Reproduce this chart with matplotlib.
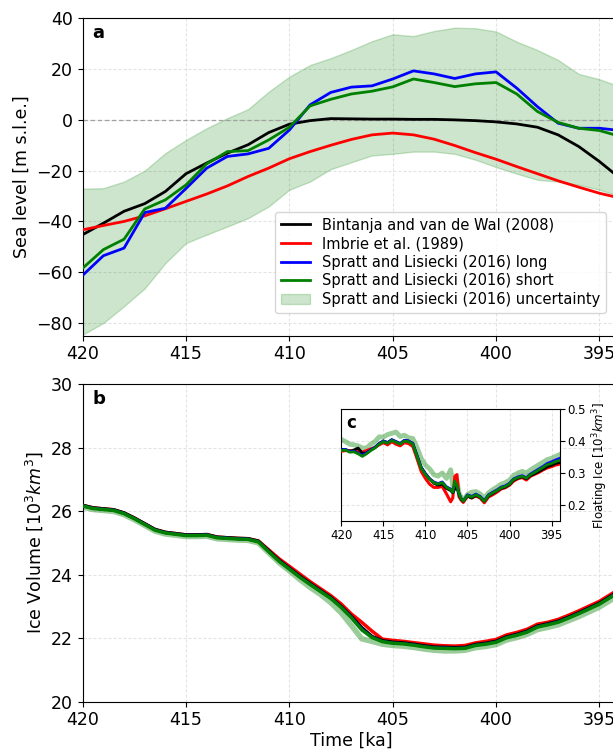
import numpy as np
import matplotlib
matplotlib.use("Agg")
import matplotlib.pyplot as plt

# ---------------- Panel a data (sea level, m s.l.e.) ----------------
time_a = np.arange(420, 393.5, -1.0)
bintanja = [-45.2, -40.7, -36.0, -33.0, -28.2, -21.2, -17.0, -13.1, -9.8, -5.0, -1.7, -0.3,
            0.5, 0.4, 0.3, 0.3, 0.2, 0.2, 0.0, -0.3, -0.8, -1.6, -2.9, -5.9, -10.5, -16.4, -23.0]
imbrie = [-43.3, -41.6, -40.0, -37.8, -35.0, -32.1, -29.2, -26.0, -22.3, -19.0, -15.3, -12.5,
          -10.0, -7.7, -5.9, -5.2, -5.9, -7.6, -10.1, -12.9, -15.5, -18.4, -21.2, -24.0, -26.5, -28.9, -30.8]
spratt_long = [-61.2, -53.5, -50.5, -36.5, -34.8, -27.0, -19.0, -14.4, -13.4, -11.2, -4.0, 5.9,
               10.8, 12.9, 13.4, 16.1, 19.3, 18.1, 16.3, 18.1, 18.9, 12.5, 5.2, -1.3, -3.3, -3.3, -4.2]
spratt_short = [-58.4, -51.1, -47.0, -35.1, -31.5, -25.6, -17.3, -12.5, -12.1, -7.9, -2.9, 5.5,
                8.1, 10.2, 11.3, 13.0, 16.1, 14.7, 13.1, 14.2, 14.7, 10.2, 3.3, -1.0, -3.3, -4.2, -6.5]
unc_upper = [-27.1, -26.9, -24.3, -20.0, -13.1, -7.9, -3.3, 0.7, 4.2, 11.1, 17.0, 21.6,
             24.3, 27.5, 31.0, 33.7, 33.0, 35.0, 36.3, 36.1, 34.8, 30.8, 27.5, 23.6, 18.1, 16.0, 13.1]
unc_lower = [-84.6, -80.0, -73.4, -66.4, -56.4, -48.5, -45.2, -42.0, -38.7, -34.1, -27.5, -24.3,
             -19.4, -16.7, -14.0, -13.4, -12.5, -12.5, -13.4, -15.7, -18.6, -21.2, -23.6, -24.3, -25.6, -27.5, -30.2]

# ---------------- Panel b data (ice volume, 10^3 km^3) ----------------
time_b = np.arange(420, 393.9, -0.5)
vol_black = [26.18, 26.10, 26.07, 26.04, 25.94, 25.78, 25.60, 25.42, 25.33, 25.29, 25.25, 25.25, 25.26,
             25.18, 25.16, 25.14, 25.13, 25.05, 24.75, 24.45, 24.20, 23.95, 23.72, 23.50, 23.28, 23.00,
             22.68, 22.33, 22.05, 21.92, 21.87, 21.85, 21.81, 21.76, 21.72, 21.71, 21.70, 21.71, 21.80,
             21.84, 21.90, 22.04, 22.12, 22.22, 22.38, 22.45, 22.53, 22.66, 22.80, 22.95, 23.10, 23.30, 23.50]
vol_green = [26.16, 26.08, 26.05, 26.02, 25.92, 25.76, 25.58, 25.40, 25.31, 25.27, 25.23, 25.23, 25.24,
             25.16, 25.14, 25.12, 25.11, 25.03, 24.72, 24.42, 24.17, 23.92, 23.69, 23.47, 23.25, 22.97,
             22.64, 22.26, 22.02, 21.89, 21.84, 21.82, 21.78, 21.73, 21.69, 21.68, 21.67, 21.68, 21.77,
             21.81, 21.87, 22.01, 22.09, 22.19, 22.35, 22.42, 22.50, 22.63, 22.77, 22.92, 23.07, 23.27, 23.47]
vol_blue = [26.17, 26.09, 26.06, 26.03, 25.93, 25.77, 25.59, 25.41, 25.32, 25.28, 25.24, 25.24, 25.25,
            25.17, 25.15, 25.13, 25.12, 25.04, 24.73, 24.43, 24.18, 23.93, 23.70, 23.48, 23.26, 22.98,
            22.66, 22.29, 22.03, 21.90, 21.85, 21.83, 21.79, 21.74, 21.70, 21.69, 21.68, 21.69, 21.78,
            21.82, 21.88, 22.02, 22.10, 22.20, 22.36, 22.43, 22.51, 22.64, 22.78, 22.93, 23.08, 23.28, 23.48]
vol_red = [26.18, 26.10, 26.07, 26.04, 25.94, 25.78, 25.60, 25.42, 25.33, 25.29, 25.25, 25.25, 25.26,
           25.18, 25.16, 25.14, 25.13, 25.06, 24.78, 24.50, 24.26, 24.02, 23.78, 23.56, 23.34, 23.08,
           22.76, 22.50, 22.22, 21.97, 21.93, 21.90, 21.86, 21.82, 21.78, 21.76, 21.75, 21.77, 21.85,
           21.90, 21.96, 22.10, 22.18, 22.28, 22.44, 22.50, 22.59, 22.72, 22.86, 23.01, 23.16, 23.36, 23.56]
vol_light = [26.13, 26.05, 26.02, 25.99, 25.89, 25.73, 25.55, 25.37, 25.28, 25.24, 25.20, 25.20, 25.21,
             25.13, 25.11, 25.09, 25.08, 25.00, 24.69, 24.38, 24.12, 23.85, 23.60, 23.38, 23.12, 22.80,
             22.40, 21.98, 21.90, 21.81, 21.77, 21.75, 21.71, 21.66, 21.62, 21.60, 21.60, 21.62, 21.70,
             21.74, 21.80, 21.94, 22.02, 22.12, 22.27, 22.34, 22.42, 22.55, 22.68, 22.83, 22.98, 23.18, 23.38]

# ---------------- Panel c data (floating ice, 10^3 km^3) ----------------
time_c = [420, 419.5, 419, 418.5, 418, 417.5, 417, 416.5, 416, 415.5, 415, 414.5, 414, 413.5, 413,
          412.5, 412, 411.5, 411, 410.5, 410, 409.5, 409, 408.5, 408, 407.5, 407,
          406.75, 406.5, 406.25, 406, 405.75, 405.5,
          405, 404.5, 404, 403.5, 403, 402.5, 402, 401.5, 401, 400.5, 400, 399.5, 399, 398.5,
          398, 397.5, 397, 396.5, 396, 395.5, 395, 394.5, 394]
flt_green = [0.370, 0.372, 0.365, 0.366, 0.360, 0.352, 0.360, 0.370, 0.378, 0.390, 0.398, 0.393, 0.402,
             0.396, 0.390, 0.400, 0.398, 0.390, 0.352, 0.315, 0.295, 0.280, 0.270, 0.265, 0.270, 0.255, 0.248,
             0.240, 0.275, 0.260, 0.235, 0.220, 0.212,
             0.230, 0.225, 0.232, 0.225, 0.212, 0.230, 0.238, 0.245, 0.254, 0.258, 0.266, 0.280, 0.286,
             0.290, 0.284, 0.295, 0.302, 0.310, 0.318, 0.326, 0.330, 0.336, 0.340]
flt_black = [0.374, 0.373, 0.368, 0.372, 0.378, 0.362, 0.362, 0.372, 0.380, 0.392, 0.400, 0.395, 0.404,
             0.398, 0.392, 0.402, 0.400, 0.392, 0.355, 0.318, 0.298, 0.282, 0.268, 0.262, 0.265, 0.252, 0.245,
             0.238, 0.250, 0.255, 0.232, 0.218, 0.212,
             0.228, 0.222, 0.230, 0.224, 0.212, 0.228, 0.236, 0.244, 0.252, 0.256, 0.264, 0.278, 0.284,
             0.288, 0.282, 0.292, 0.298, 0.305, 0.312, 0.320, 0.324, 0.330, 0.333]
flt_blue = [0.372, 0.374, 0.367, 0.368, 0.362, 0.355, 0.363, 0.372, 0.380, 0.392, 0.400, 0.395, 0.404,
            0.398, 0.392, 0.402, 0.400, 0.392, 0.354, 0.317, 0.297, 0.282, 0.272, 0.267, 0.272, 0.257, 0.250,
            0.242, 0.265, 0.258, 0.236, 0.221, 0.213,
            0.232, 0.227, 0.234, 0.227, 0.214, 0.232, 0.240, 0.247, 0.256, 0.260, 0.268, 0.282, 0.288,
            0.292, 0.286, 0.297, 0.305, 0.313, 0.321, 0.330, 0.335, 0.341, 0.346]
flt_red = [0.368, 0.370, 0.370, 0.368, 0.370, 0.365, 0.370, 0.375, 0.380, 0.388, 0.395, 0.388, 0.398,
           0.390, 0.385, 0.395, 0.392, 0.383, 0.345, 0.305, 0.283, 0.265, 0.255, 0.255, 0.258, 0.235, 0.210,
           0.222, 0.290, 0.295, 0.225, 0.215, 0.208,
           0.228, 0.222, 0.228, 0.222, 0.207, 0.225, 0.232, 0.240, 0.250, 0.254, 0.262, 0.275, 0.282,
           0.286, 0.278, 0.290, 0.296, 0.302, 0.310, 0.316, 0.320, 0.325, 0.328]
flt_light = [0.405, 0.398, 0.390, 0.388, 0.385, 0.378, 0.378, 0.390, 0.398, 0.413, 0.412, 0.420, 0.424,
             0.428, 0.414, 0.418, 0.410, 0.408, 0.380, 0.345, 0.325, 0.313, 0.295, 0.290, 0.300, 0.283, 0.310,
             0.260, 0.270, 0.275, 0.236, 0.225, 0.215,
             0.233, 0.240, 0.242, 0.235, 0.222, 0.238, 0.248, 0.256, 0.265, 0.270, 0.278, 0.292, 0.300,
             0.305, 0.300, 0.310, 0.318, 0.326, 0.334, 0.342, 0.346, 0.352, 0.358]

labels = ["Bintanja and van de Wal (2008)", "Imbrie et al. (1989)",
          "Spratt and Lisiecki (2016) long", "Spratt and Lisiecki (2016) short",
          "Spratt and Lisiecki (2016) uncertainty"]

FS = 12.5
W, H = 613, 751
fig = plt.figure(figsize=(W / 100, H / 100), dpi=100)

left = 82.7 / W
width = 537.4 / W
ax_a = fig.add_axes([left, 1 - 335.7 / H, width, (335.7 - 18.3) / H])
ax_b = fig.add_axes([left, 1 - 701.7 / H, width, (701.7 - 384.0) / H])
ax_c = fig.add_axes([341.3 / W, 1 - 521.0 / H, (560.0 - 341.3) / W, (521.0 - 409.0) / H])

grid_kw = dict(color="#e2e2e2", linestyle=(0, (2.7, 1.8)), linewidth=0.8)

# ---- Panel a ----
ax_a.fill_between(time_a, unc_lower, unc_upper, color="green", alpha=0.2, label=labels[4], zorder=1)
ax_a.axhline(0, color="#a0a0a0", linestyle=(0, (3.5, 2.2)), linewidth=0.9, zorder=1.5)
ax_a.plot(time_a, bintanja, color="black", lw=2, label=labels[0], zorder=3)
ax_a.plot(time_a, imbrie, color="red", lw=2, label=labels[1], zorder=3)
ax_a.plot(time_a, spratt_long, color="blue", lw=2, label=labels[2], zorder=3)
ax_a.plot(time_a, spratt_short, color="green", lw=2, label=labels[3], zorder=3)
ax_a.set_xlim(420, 394)
ax_a.set_ylim(-85, 40)
ax_a.set_yticks([-80, -60, -40, -20, 0, 20, 40])
ax_a.set_xticks([420, 415, 410, 405, 400, 395])
ax_a.grid(True, **grid_kw)
ax_a.set_axisbelow(True)
ax_a.set_ylabel("Sea level [m s.l.e.]", fontsize=FS)
ax_a.tick_params(labelsize=FS)
ax_a.text(0.018, 0.953, "a", transform=ax_a.transAxes, fontsize=13, fontweight="bold", va="center")
h, l = ax_a.get_legend_handles_labels()
order = [l.index(x) for x in labels]
ax_a.legend([h[i] for i in order], [l[i] for i in order], loc="upper left",
            bbox_to_anchor=(275 / W, 1 - 211.7 / H), bbox_transform=fig.transFigure,
            fontsize=10.5, framealpha=0.8, borderaxespad=0, labelspacing=0.25)

# ---- Panel b ----
ax_b.plot(time_b, vol_light, color="green", alpha=0.4, lw=4, zorder=2)
ax_b.plot(time_b, vol_red, color="red", lw=2.5, zorder=3)
ax_b.plot(time_b, vol_black, color="black", lw=2.5, zorder=3)
ax_b.plot(time_b, vol_blue, color="blue", lw=2, zorder=3)
ax_b.plot(time_b, vol_green, color="green", lw=2.5, zorder=3)
ax_b.set_xlim(420, 394)
ax_b.set_ylim(20, 30)
ax_b.set_yticks([20, 22, 24, 26, 28, 30])
ax_b.set_xticks([420, 415, 410, 405, 400, 395])
ax_b.grid(True, **grid_kw)
ax_b.set_axisbelow(True)
ax_b.set_ylabel("Ice Volume [$10^3 km^3$]", fontsize=FS)
ax_b.set_xlabel("Time [ka]", fontsize=FS, labelpad=2)
ax_b.tick_params(labelsize=FS)
ax_b.text(0.018, 0.953, "b", transform=ax_b.transAxes, fontsize=13, fontweight="bold", va="center")

# ---- Panel c (inset) ----
ax_c.plot(time_c, flt_light, color="green", alpha=0.4, lw=3.5, zorder=2)
ax_c.plot(time_c, flt_red, color="red", lw=2.2, zorder=3)
ax_c.plot(time_c, flt_black, color="black", lw=2, zorder=3)
ax_c.plot(time_c, flt_blue, color="blue", lw=2, zorder=3)
ax_c.plot(time_c, flt_green, color="green", lw=2, zorder=3)
ax_c.set_xlim(420, 394)
ax_c.set_ylim(0.15, 0.5)
ax_c.set_yticks([0.2, 0.3, 0.4, 0.5])
ax_c.set_xticks([420, 415, 410, 405, 400, 395])
ax_c.grid(True, **grid_kw)
ax_c.set_axisbelow(True)
ax_c.yaxis.tick_right()
ax_c.yaxis.set_label_position("right")
ax_c.tick_params(labelsize=8.5, pad=2)
ax_c.set_ylabel("Floating Ice [$10^3 km^3$]", fontsize=8.5, labelpad=3)
ax_c.text(0.021, 0.875, "c", transform=ax_c.transAxes, fontsize=12, fontweight="bold", va="center")

fig.savefig("out.png", dpi=100)
